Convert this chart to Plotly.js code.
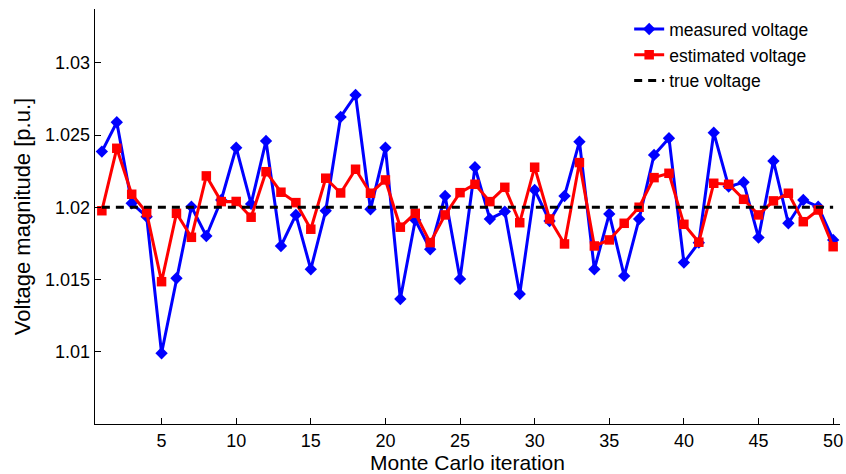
<!DOCTYPE html>
<html>
<head>
<meta charset="utf-8">
<script src="https://cdn.plot.ly/plotly-3.0.1.min.js"></script>
<style>
html,body{margin:0;padding:0;background:#fff;}
#chart{width:846px;height:474px;}
</style>
</head>
<body>
<div id="chart"></div>
<script>
const iterations = [1,2,3,4,5,6,7,8,9,10,11,12,13,14,15,16,17,18,19,20,21,22,23,24,25,26,27,28,29,30,31,32,33,34,35,36,37,38,39,40,41,42,43,44,45,46,47,48,49,50];

const measuredVoltage = [
  1.02385, 1.02588, 1.02028, 1.01935, 1.0099, 1.01509, 1.02004, 1.01801, 1.0205, 1.02412,
  1.02023, 1.02459, 1.01732, 1.01947, 1.01571, 1.01976, 1.02625, 1.02777, 1.01986, 1.02412,
  1.01365, 1.01912, 1.01709, 1.02078, 1.01504, 1.02277, 1.01919, 1.0197, 1.0140, 1.0212,
  1.01905, 1.02078, 1.02454, 1.01571, 1.01954, 1.01525, 1.01919, 1.02362, 1.02478, 1.01617,
  1.01755, 1.02516, 1.02143, 1.02173, 1.0179, 1.0232, 1.01889, 1.0205, 1.02004, 1.01774
];

const estimatedVoltage = [
  1.01976, 1.02408, 1.0209, 1.01963, 1.01485, 1.01958, 1.01792, 1.02217, 1.02039, 1.0204,
  1.01931, 1.02246, 1.02104, 1.02032, 1.01848, 1.02201, 1.02099, 1.02263, 1.02097, 1.02189,
  1.01862, 1.01958, 1.01755, 1.01947, 1.02101, 1.02159, 1.02039, 1.02138, 1.01893, 1.02277,
  1.01919, 1.01746, 1.02309, 1.01732, 1.01774, 1.01889, 1.0200, 1.02205, 1.02235, 1.01882,
  1.01758, 1.02166, 1.02159, 1.02055, 1.01947, 1.02044, 1.02097, 1.019, 1.01981, 1.01727
];

const trueVoltage = iterations.map(() => 1.02);

const xTickVals = [5,10,15,20,25,30,35,40,45,50];
const yTickVals = [1.01,1.015,1.02,1.025,1.03];
const yTickText = ['1.01','1.015','1.02','1.025','1.03'];

const FONT = 'Liberation Sans, Arial, Helvetica, sans-serif';

const traces = [
  {
    x: iterations, y: measuredVoltage, name: 'measured voltage',
    type: 'scatter', mode: 'lines+markers',
    line: {color: '#0000ff', width: 3},
    marker: {symbol: 'diamond', size: 9.5, color: '#0000ff'}
  },
  {
    x: iterations, y: estimatedVoltage, name: 'estimated voltage',
    type: 'scatter', mode: 'lines+markers',
    line: {color: '#ff0000', width: 3},
    marker: {symbol: 'square', size: 9.5, color: '#ff0000'}
  },
  {
    x: iterations, y: trueVoltage, name: 'true voltage',
    type: 'scatter', mode: 'lines',
    line: {color: '#000000', width: 3, dash: '8px,6px'}
  }
];

const layout = {
  width: 846, height: 474,
  margin: {l: 95, r: 6, t: 9, b: 50},
  paper_bgcolor: '#ffffff', plot_bgcolor: '#ffffff',
  font: {family: FONT, size: 18, color: '#000'},
  showlegend: true,
  legend: {
    x: 0.717, y: 0.995, xanchor: 'left', yanchor: 'top',
    bgcolor: 'rgba(0,0,0,0)', borderwidth: 0,
    font: {family: FONT, size: 17.5, color: '#000'},
    itemwidth: 30, tracegroupgap: 0
  },
  xaxis: {
    range: [0.54, 50.46],
    tickvals: xTickVals,
    ticks: 'inside', ticklen: 6, tickcolor: '#000', tickwidth: 1,
    showline: true, linecolor: '#000', linewidth: 1.3,
    showgrid: false, zeroline: false,
    tickfont: {family: FONT, size: 18, color: '#000'},
    title: {text: 'Monte Carlo iteration', font: {family: FONT, size: 21, color: '#000'}, standoff: 0}
  },
  yaxis: {
    range: [1.005, 1.03372],
    tickvals: yTickVals, ticktext: yTickText,
    ticks: 'inside', ticklen: 6, tickcolor: '#000', tickwidth: 1,
    showline: true, linecolor: '#000', linewidth: 1.3,
    showgrid: false, zeroline: false,
    tickfont: {family: FONT, size: 18, color: '#000'},
    title: {text: 'Voltage magnitude [p.u.]', font: {family: FONT, size: 22, color: '#000'}, standoff: 8}
  }
};

Plotly.newPlot('chart', traces, layout, {displayModeBar: false, staticPlot: true});
</script>
</body>
</html>
